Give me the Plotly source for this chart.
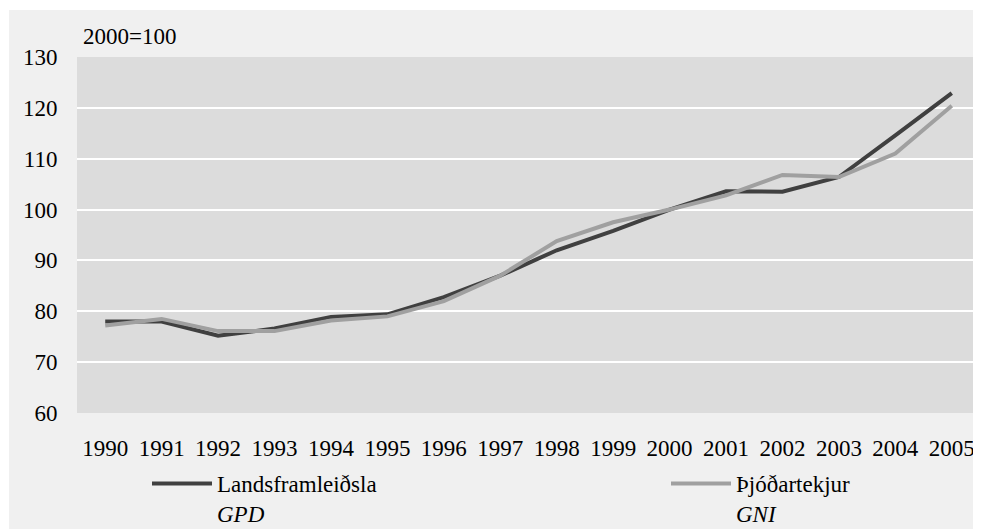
import plotly.graph_objects as go

years = [str(y) for y in range(1990, 2006)]
gdp = [78.0, 78.0, 75.2, 76.6, 78.9, 79.4, 82.8, 87.0, 92.0, 95.8, 100.0, 103.6, 103.5, 106.4, 114.6, 122.9]
gni = [77.2, 78.5, 76.1, 76.1, 78.2, 79.0, 82.0, 87.0, 93.8, 97.5, 100.0, 102.8, 106.8, 106.4, 111.0, 120.4]
gdp_name = "Landsframleiðsla<br><i>GPD</i>"
gni_name = "Þjóðartekjur<br><i>GNI</i>"
yticks = [60, 70, 80, 90, 100, 110, 120, 130]

FAMILY = "Liberation Serif"


def fnt(size=23):
    return dict(family=FAMILY, size=size, color="#000")


fig = go.Figure()
fig.add_trace(go.Scatter(x=years, y=gdp, name=gdp_name, mode="lines",
                         line=dict(color="#404040", width=4), legend="legend"))
fig.add_trace(go.Scatter(x=years, y=gni, name=gni_name, mode="lines",
                         line=dict(color="#a0a0a0", width=4), legend="legend2"))

OFF = 8  # page body margin
W, H = 973, 521
L, R, T, B = 69, 1, 49, 116
pw, ph = W - L - R, H - T - B


def px(xs):
    return (xs - OFF - L) / pw


def py(ys):
    return (H - B - (ys - OFF)) / ph


fig.update_layout(
    template="none",
    width=W, height=H,
    margin=dict(l=L, r=R, t=T, b=B, autoexpand=False),
    paper_bgcolor="#ffffff",
    plot_bgcolor="rgba(0,0,0,0)",
    font=fnt(),
    xaxis=dict(type="category", range=[-0.5, 15.5], showgrid=False, zeroline=False,
               showline=False, ticks="outside", ticklen=14, tickcolor="rgba(0,0,0,0)",
               tickfont=fnt(), automargin=False),
    yaxis=dict(range=[60, 130], tickvals=yticks, showgrid=True, gridcolor="#ffffff",
               gridwidth=2, zeroline=False, showline=False, ticks="outside", ticklen=14,
               tickcolor="rgba(0,0,0,0)", tickfont=fnt(), automargin=False),
    shapes=[
        dict(type="rect", xref="paper", yref="paper", x0=px(9), x1=px(1000), y0=py(560), y1=py(10),
             fillcolor="#f0f0f0", line=dict(width=0), layer="below"),
        dict(type="rect", xref="x domain", yref="y domain", x0=0, x1=1, y0=0, y1=1,
             fillcolor="#dcdcdc", line=dict(width=0), layer="below"),
    ],
    annotations=[
        dict(text="2000=100", xref="paper", yref="paper", x=px(81), y=py(36),
             xanchor="left", yanchor="middle", showarrow=False, font=fnt()),
    ],
    legend=dict(x=px(147), y=py(462), xanchor="left", yanchor="top", bgcolor="rgba(0,0,0,0)",
                font=fnt(), valign="top", itemwidth=60),
    legend2=dict(x=px(666), y=py(462), xanchor="left", yanchor="top", bgcolor="rgba(0,0,0,0)",
                 font=fnt(), valign="top", itemwidth=60),
    showlegend=True,
)

fig.write_html("out.html")
